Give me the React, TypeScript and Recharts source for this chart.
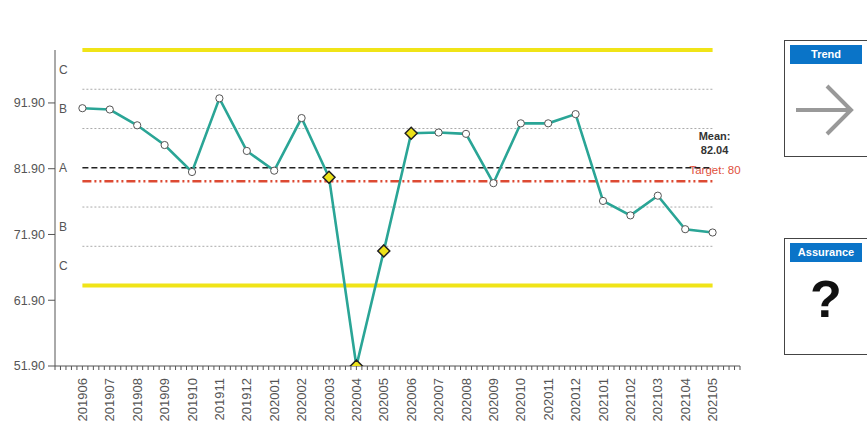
import { LineChart, Line, XAxis, YAxis, ReferenceLine } from "recharts";

// months shown on the x axis (one point each)
const months = [
    "201906", "201907", "201908", "201909", "201910", "201911", "201912",
    "202001", "202002", "202003", "202004", "202005", "202006", "202007",
    "202008", "202009", "202010", "202011", "202012", "202101", "202102",
    "202103", "202104", "202105",
];

const values = [
    91.1, 90.9, 88.5, 85.5, 81.4, 92.6, 84.6, 81.6, 89.6, 80.6, 51.9, 69.4,
    87.3, 87.4, 87.2, 79.7, 88.8, 88.8, 90.2, 77.0, 74.8, 77.8, 72.7, 72.2,
];

// special-cause points drawn as yellow diamonds
const flagged = ["202003", "202004", "202005", "202006"];

const mean = 82.04;
const target = 80;
const controlLimits = [64.13, 99.95];
const sigmaLines = [70.1, 76.07, 88.01, 93.98];
const yTicks = [51.9, 61.9, 71.9, 81.9, 91.9];
const zoneLabels = [
    { y: 96.97, text: "C" },
    { y: 91.0, text: "B" },
    { y: 82.04, text: "A" },
    { y: 73.1, text: "B" },
    { y: 67.1, text: "C" },
];

const data = months.map((m, i) => ({ idx: i, month: m, value: values[i] }));

// minor ticks every fifth of a month, labels only on whole months
const xTicks: number[] = [];
for (let k = 0; k <= 125; k++) xTicks.push(k / 5 - 1);

const FONT = "Arial, 'Liberation Sans', sans-serif";

function XTick(props: any) {
    const { x, y, payload } = props;
    const v = payload.value;
    const r = Math.round(v);
    if (Math.abs(v - r) > 1e-6 || r < 0 || r >= months.length) return null;
    const ty = y + 6;
    return (
        <text
            x={x}
            y={ty}
            dy="0.36em"
            textAnchor="end"
            transform={`rotate(-90, ${x}, ${ty})`}
            fontSize={13}
            fontFamily={FONT}
            fill="#555"
        >
            {months[r]}
        </text>
    );
}

function PointDot(props: any) {
    const { cx, cy, payload } = props;
    if (cx == null || cy == null) return null;
    if (flagged.includes(payload.month)) {
        const s = 6;
        return (
            <path
                key={payload.month}
                d={`M${cx},${cy - s} L${cx + s},${cy} L${cx},${cy + s} L${cx - s},${cy} Z`}
                fill="#ece21a"
                stroke="#222"
                strokeWidth={1.5}
            />
        );
    }
    return <circle key={payload.month} cx={cx} cy={cy} r={3.6} fill="#fff" stroke="#555" strokeWidth={1} />;
}

function MeanLabel(props: any) {
    const { viewBox } = props;
    const xr = viewBox.x + viewBox.width;
    return (
        <g fontFamily={FONT} fontSize={11} fontWeight="bold" fill="#333" textAnchor="middle">
            <text x={xr + 2} y={viewBox.y - 28}>Mean:</text>
            <text x={xr + 2} y={viewBox.y - 14}>{mean.toFixed(2)}</text>
        </g>
    );
}

function TargetLabel(props: any) {
    const { viewBox } = props;
    return (
        <text
            x={viewBox.x + viewBox.width + 28}
            y={viewBox.y - 7}
            textAnchor="end"
            fontFamily={FONT}
            fontSize={11.5}
            fill="#e0503c"
        >
            Target: {target}
        </text>
    );
}

function Panel({ top, title, children }: { top: number; title: string; children: any }) {
    return (
        <div
            style={{
                position: "absolute",
                left: 784,
                top,
                width: 100,
                height: 117,
                border: "1px solid #444",
                boxSizing: "border-box",
                background: "#fff",
            }}
        >
            <div
                style={{
                    position: "absolute",
                    left: 5,
                    top: 4,
                    width: 72,
                    height: 19,
                    background: "#0a74c8",
                    color: "#fff",
                    fontFamily: FONT,
                    fontWeight: "bold",
                    fontSize: 11,
                    lineHeight: "19px",
                    textAlign: "center",
                }}
            >
                {title}
            </div>
            {children}
        </div>
    );
}

export default function App() {
    return (
        <div style={{ position: "absolute", left: 0, top: 0, width: 867, height: 427, background: "#fff", overflow: "hidden" }}>
            <LineChart width={770} height={427} data={data} margin={{ top: 50, right: 30, left: 0, bottom: 0 }}>
                <XAxis
                    dataKey="idx"
                    type="number"
                    domain={[-1, 24]}
                    ticks={xTicks}
                    interval={0}
                    tick={<XTick />}
                    tickSize={4}
                    height={61}
                    axisLine={{ stroke: "#555" }}
                    tickLine={{ stroke: "#555" }}
                />
                <YAxis
                    type="number"
                    domain={[51.9, controlLimits[1]]}
                    allowDataOverflow
                    ticks={yTicks}
                    interval={0}
                    tickFormatter={(v: number) => v.toFixed(2)}
                    width={55}
                    tickSize={7}
                    tickMargin={3}
                    tick={{ fontSize: 12.5, fontFamily: FONT, fill: "#555" }}
                    axisLine={{ stroke: "#555" }}
                    tickLine={{ stroke: "#555" }}
                />
                {zoneLabels.map((z, i) => (
                    <ReferenceLine
                        key={`zone-${i}`}
                        y={z.y}
                        stroke="none"
                        label={{ value: z.text, position: "insideLeft", offset: 4, fontSize: 12, fontFamily: FONT, fill: "#555" }}
                    />
                ))}
                {sigmaLines.map((v) => (
                    <ReferenceLine
                        key={`sig-${v}`}
                        segment={[{ x: 0, y: v }, { x: 23, y: v }]}
                        stroke="#aaa"
                        strokeDasharray="2 2"
                        strokeWidth={1}
                    />
                ))}
                {controlLimits.map((v) => (
                    <ReferenceLine
                        key={`cl-${v}`}
                        segment={[{ x: 0, y: v }, { x: 23, y: v }]}
                        stroke="#f0e418"
                        strokeWidth={4}
                        ifOverflow="visible"
                    />
                ))}
                <ReferenceLine
                    segment={[{ x: 0, y: target }, { x: 23, y: target }]}
                    stroke="#dd4a33"
                    strokeWidth={2.5}
                    strokeDasharray="9 3 2 3 2 3"
                    label={<TargetLabel />}
                />
                <ReferenceLine
                    segment={[{ x: 0, y: mean }, { x: 23, y: mean }]}
                    stroke="#222"
                    strokeWidth={1.6}
                    strokeDasharray="6 3"
                    label={<MeanLabel />}
                />
                <Line
                    dataKey="value"
                    stroke="#2aa596"
                    strokeWidth={2.6}
                    dot={<PointDot />}
                    activeDot={false}
                    isAnimationActive={false}
                />
            </LineChart>

            <Panel top={40} title="Trend">
                <svg width={70} height={60} style={{ position: "absolute", left: 8, top: 40 }}>
                    <line x1={3} y1={29} x2={57} y2={29} stroke="#999" strokeWidth={4} />
                    <polyline points="34,5 58,29 34,53" fill="none" stroke="#999" strokeWidth={4} />
                </svg>
            </Panel>

            <Panel top={238} title="Assurance">
                <div
                    style={{
                        position: "absolute",
                        left: 0,
                        width: 82,
                        top: 30,
                        textAlign: "center",
                        fontFamily: FONT,
                        fontWeight: "bold",
                        fontSize: 52,
                        lineHeight: "60px",
                        color: "#111",
                    }}
                >
                    ?
                </div>
            </Panel>
        </div>
    );
}
